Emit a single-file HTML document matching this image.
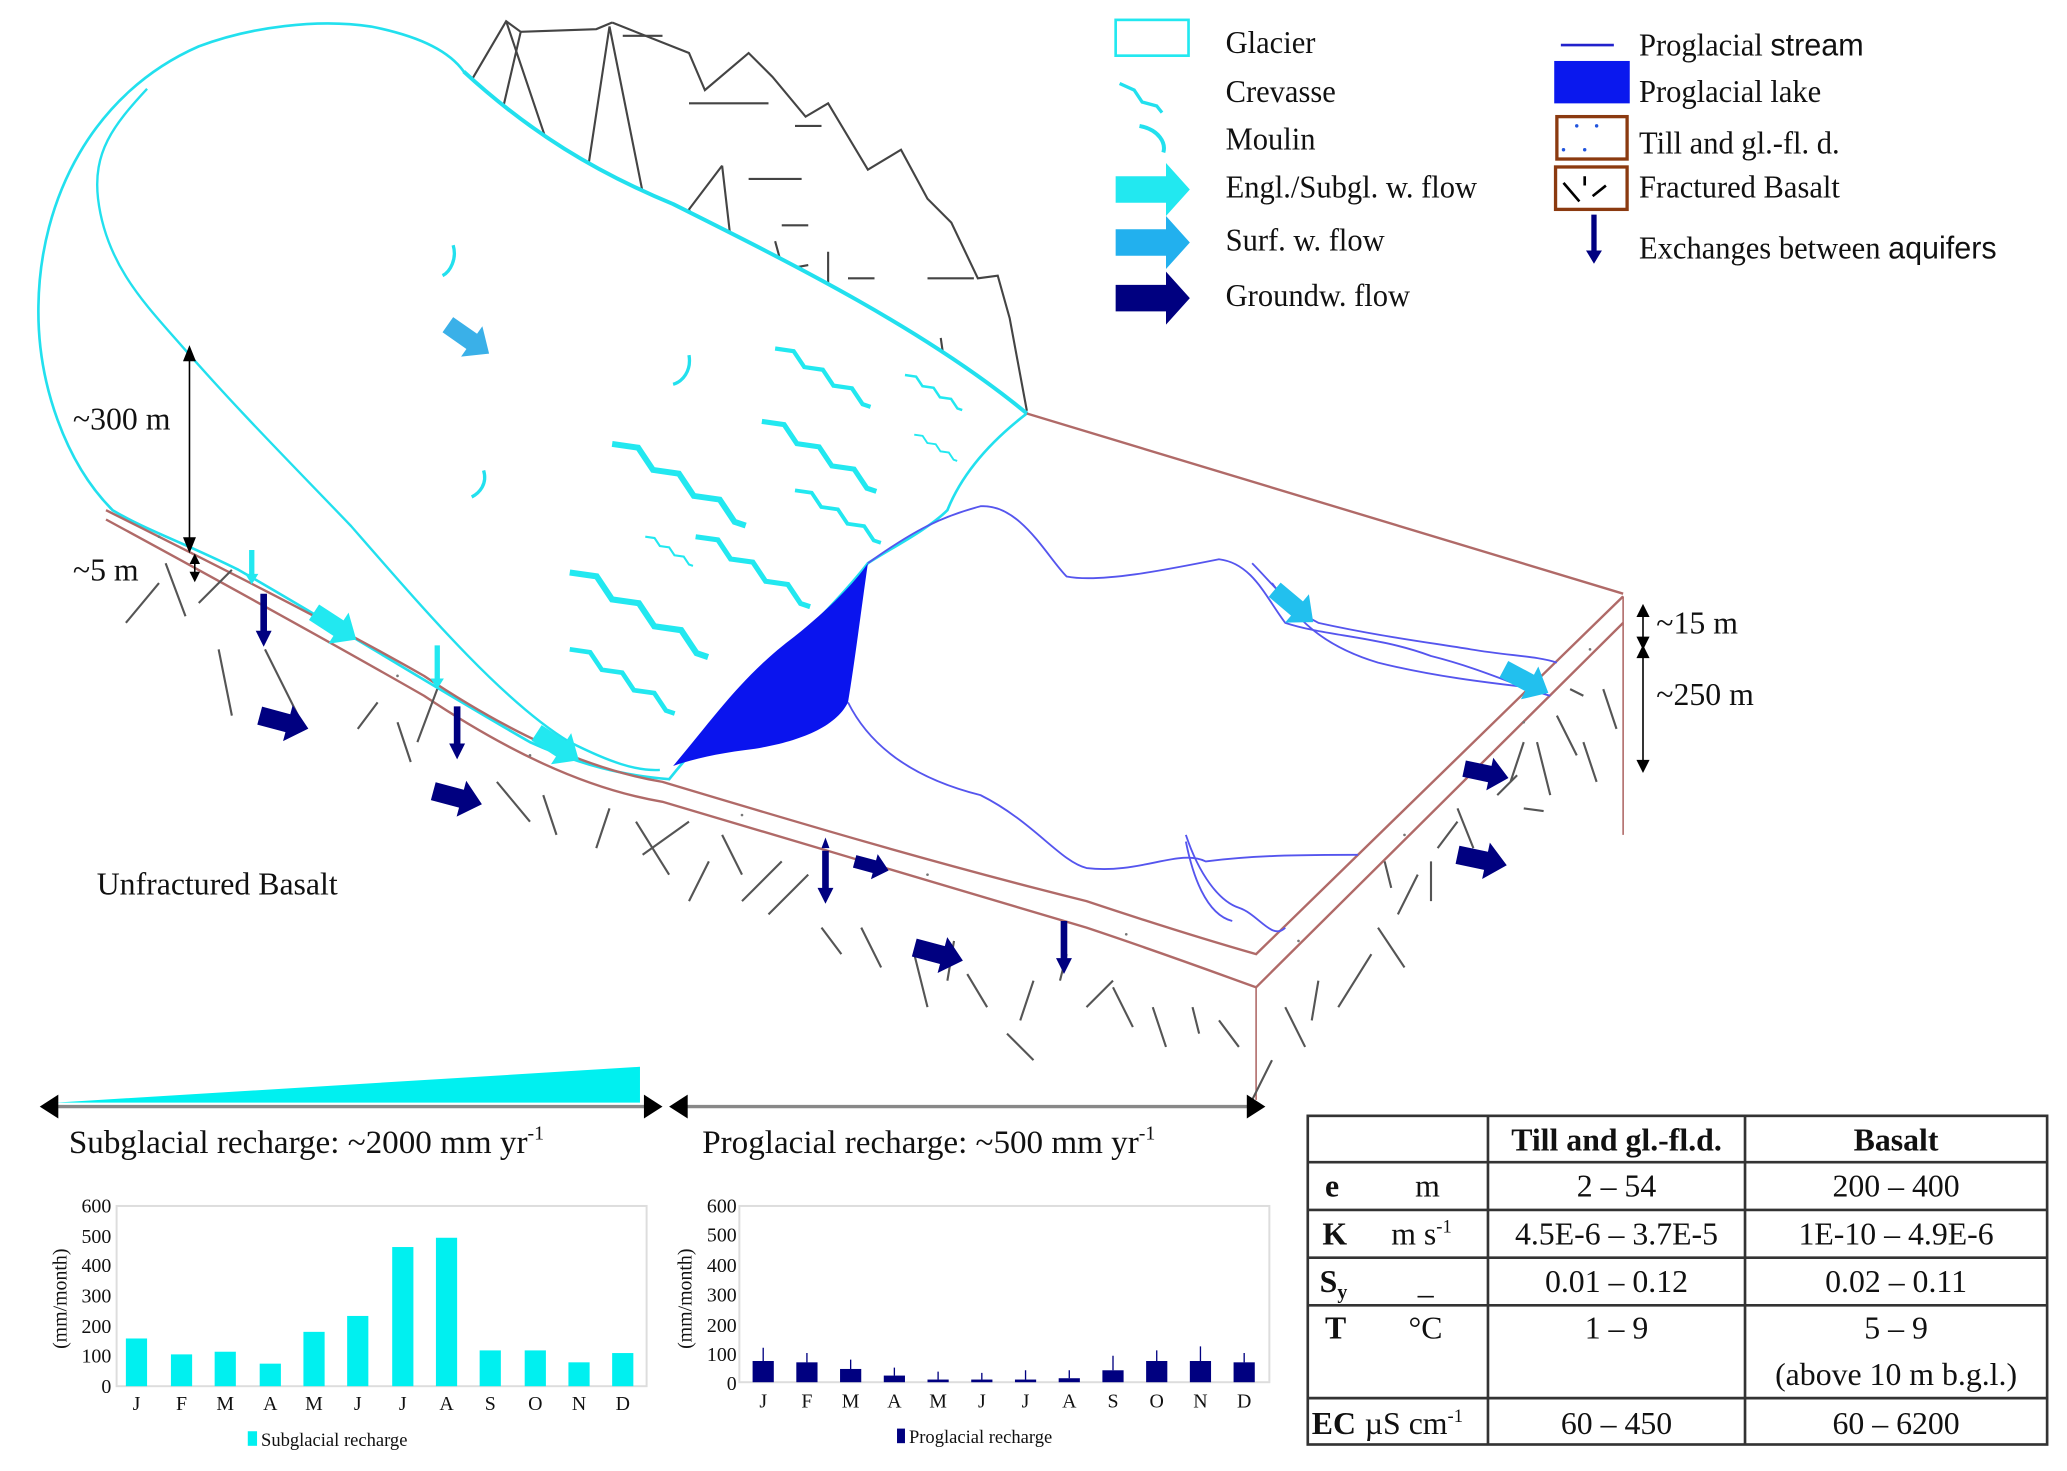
<!DOCTYPE html>
<html><head><meta charset="utf-8"><style>
html,body{margin:0;padding:0;background:#fff;}
svg{display:block;}
text{font-family:"Liberation Serif",serif;fill:#111;}
</style></head><body>
<svg width="2067" height="1471" viewBox="0 0 1560 1110" preserveAspectRatio="none" xmlns="http://www.w3.org/2000/svg">
<defs>
<path id="crev" d="M0,0 L14,2 L22,14 L36,16 L44,28 L58,30 L66,42 L72,44" fill="none" stroke="#22e8f0" stroke-width="3.2"/>
<path id="arr" d="M0,-7 L22,-7 L22,-14 L38,0 L22,14 L22,7 L0,7Z"/>
<path id="darr" d="M-2.5,0 L2.5,0 L2.5,28 L6,28 L0,40 L-6,28 L-2.5,28Z"/>
</defs>

<!-- mountain -->
<g fill="none" stroke="#444" stroke-width="1.6">
<path d="M355,62 L382,16 L393,24 L450,22 L462,17 M462,17 L520,40 L532,68 L565,40 L583,58 L608,88 L625,78 L655,128 L680,113 L700,150 L718,168 L738,210 L753,208 L762,240 L775,310"/>
<path d="M382,16 L412,105 L438,165 L460,20 L488,160 L485,170 L518,245"/>
<path d="M393,24 L380,80 M412,105 L410,140 M545,125 L520,158 L545,220 M545,125 L560,255 M585,182 L620,310 M583,205 L610,200 M590,170 L610,170 M580,78 L520,78 M605,135 L565,135 M640,210 L660,210 M630,245 L660,245 M650,268 L690,260 M700,295 L740,295 M715,320 L745,320 M725,338 L740,338 M470,27 L500,27 M620,95 L600,95 M625,190 L625,265 M710,255 L715,290 M700,302 L695,330 M730,305 L745,310 M700,210 L735,210"/>
</g>

<!-- glacier -->
<path d="M85,385 C50,350 28,290 29,231 C30,150 70,70 150,35 C190,20 240,14 280,20 C320,28 340,40 350,54 C400,100 450,130 508,154 C600,200 700,250 775,312 C745,335 725,360 715,385 C700,400 670,415 655,425 C620,470 560,520 505,588 C470,585 440,578 400,560 C330,520 250,470 180,430 C140,410 110,400 85,385Z" fill="#fff" stroke="#22e0ee" stroke-width="2"/>
<path d="M111,67 C85,95 70,115 74,150 C80,200 110,230 138,262 C180,310 220,350 265,397 C320,460 380,530 430,560 C460,575 480,582 498,581" fill="none" stroke="#22e0ee" stroke-width="1.8"/>
<path d="M350,54 C400,100 450,130 508,154 C600,200 700,250 775,312" fill="none" stroke="#22e0ee" stroke-width="3"/>
<g>
<use href="#crev" transform="translate(585,263)"/>
<use href="#crev" transform="translate(683,283) scale(0.6)"/>
<use href="#crev" transform="translate(575,318) scale(1.2)"/>
<use href="#crev" transform="translate(690,328) scale(0.45)"/>
<use href="#crev" transform="translate(462,335) scale(1.4)"/>
<use href="#crev" transform="translate(600,370) scale(0.9)"/>
<use href="#crev" transform="translate(525,405) scale(1.2)"/>
<use href="#crev" transform="translate(430,432) scale(1.45)"/>
<use href="#crev" transform="translate(487,405) scale(0.5)"/>
<use href="#crev" transform="translate(430,490) scale(1.1)"/>
</g>
<g fill="none" stroke="#22e0ee" stroke-width="2.5">
<path d="M342,185 C345,195 340,205 334,208"/><path d="M520,268 C522,280 515,288 508,290"/><path d="M365,355 C368,365 362,372 356,375"/>
</g>
<use href="#arr" fill="#3ab0e8" transform="translate(338,245) rotate(35)"/>

<!-- ground block -->
<g fill="none" stroke="#b06a68" stroke-width="1.8">
<path d="M775,312 L1225,448"/>
<path d="M80,385 C150,420 250,470 320,510 C380,550 440,580 500,590 C600,620 700,650 820,680 C880,700 920,712 948,720 L1225,450"/>
<path d="M80,392 C150,430 250,485 320,525 C380,565 440,595 500,605 C600,635 700,665 820,700 C880,720 920,735 948,745 L1225,470"/>
<path d="M948,745 L948,830 M1225,450 L1225,630" stroke-width="1.2"/>
</g>
<!-- fractures -->
<g stroke="#555" stroke-width="1.6">
<path d="M95,470 L120,440 M125,425 L140,465 M150,455 L175,430 M165,490 L175,540 M200,490 L225,540 M270,550 L285,530 M300,545 L310,575 M315,560 L330,520 M375,590 L400,620 M410,600 L420,630 M460,610 L450,640 M485,645 L520,620 M480,620 L505,660 M535,650 L520,680 M545,630 L560,660 M560,680 L590,650 M580,690 L610,660 M620,700 L635,720 M650,700 L665,730 M690,720 L700,760 M720,710 L715,740 M780,740 L770,770 M805,720 L800,740 M820,760 L840,740 M840,745 L855,775 M870,760 L880,790 M900,760 L905,780 M920,770 L935,790 M960,800 L945,830 M970,760 L985,790 M995,740 L990,770 M1010,760 L1035,720 M1040,700 L1060,730 M1055,690 L1070,660 M1080,680 L1080,650 M1100,610 L1112,640 M1150,610 L1165,612 M1160,560 L1170,600 M1175,540 L1190,570 M1195,560 L1205,590 M1210,520 L1220,550 M1185,520 L1195,525 M1140,590 L1150,560 M1085,640 L1100,620 M730,735 L745,760 M760,780 L780,800 M1130,600 L1145,585 M1045,650 L1050,670"/>
</g>
<g fill="#777"><circle cx="120" cy="405" r="1"/><circle cx="200" cy="450" r="1"/><circle cx="300" cy="510" r="1"/><circle cx="400" cy="570" r="1"/><circle cx="560" cy="615" r="1"/><circle cx="700" cy="660" r="1"/><circle cx="850" cy="705" r="1"/><circle cx="980" cy="710" r="1"/><circle cx="1060" cy="630" r="1"/><circle cx="1150" cy="545" r="1"/><circle cx="1200" cy="490" r="1"/></g>

<!-- lake & streams -->
<path d="M508,578 C540,540 560,510 600,480 C625,460 645,440 655,425 C650,460 645,500 640,530 C630,550 600,560 570,565 C545,568 525,572 508,578Z" fill="#0a14ee"/>
<g fill="none" stroke="#5555ee" stroke-width="1.4">
<path d="M655,425 C690,400 710,390 740,382 C770,380 790,420 805,435 C830,440 880,430 920,422 C945,425 955,450 970,470 C1000,480 1040,480 1080,495 C1120,505 1150,520 1170,525"/>
<path d="M945,425 C960,440 975,460 995,470 C1040,480 1080,485 1110,490 C1140,495 1160,495 1175,500"/>
<path d="M960,440 C975,460 990,485 1040,500 C1080,510 1120,515 1165,520"/>
<path d="M640,530 C660,570 700,590 740,600 C780,620 800,650 820,655 C860,660 890,640 910,650 C950,645 990,645 1025,645"/>
<path d="M895,630 C905,660 920,680 935,685 C950,690 960,710 970,700"/>
<path d="M895,635 C900,660 910,690 930,695"/>
</g>

<!-- flow arrows -->
<g fill="#22e8f0"><use href="#arr" transform="translate(237,462) rotate(33)"/><use href="#arr" transform="translate(405,553) rotate(33)"/></g>
<g fill="#22c0ee"><use href="#arr" transform="translate(962,445) rotate(40)"/><use href="#arr" transform="translate(1135,505) rotate(28)"/></g>
<g fill="#000080"><use href="#arr" transform="translate(196,540) rotate(15)"/><use href="#arr" transform="translate(327,597) rotate(15)"/><use href="#arr" transform="translate(690,715) rotate(15)"/><use href="#arr" transform="translate(1105,580) rotate(12) scale(0.9)"/><use href="#arr" transform="translate(1100,645) rotate(12)"/><use href="#arr" transform="translate(645,650) rotate(15) scale(0.7)"/>
<use href="#darr" transform="translate(199,448)"/><use href="#darr" transform="translate(345,533)"/><use href="#darr" transform="translate(803,695)"/><use href="#darr" transform="translate(623,642)"/><path d="M620,640 L623,632 L626,640Z"/></g>
<g fill="#22e8f0"><path d="M188,415 L192,415 L192,433 L195,433 L190,441 L185,433 L188,433Z"/><path d="M328,487 L332,487 L332,512 L335,512 L330,520 L325,512 L328,512Z"/></g>

<!-- dimension arrows -->
<g stroke="#000" stroke-width="1.2" fill="#000">
<path d="M143,270 L143,408"/><path d="M139,272 L143,262 L147,272Z"/><path d="M139,406 L143,416 L147,406Z"/>
<path d="M147,422 L147,435"/><path d="M144,425 L147,419 L150,425Z M144,432 L147,438 L150,432Z"/>
<path d="M1240,460 L1240,485"/><path d="M1236,465 L1240,457 L1244,465Z M1236,481 L1240,489 L1244,481Z"/>
<path d="M1240,490 L1240,580"/><path d="M1236,496 L1240,488 L1244,496Z M1236,574 L1240,582 L1244,574Z"/>
</g>
<text x="55" y="324" font-size="24">~300 m</text>
<text x="55" y="438" font-size="24">~5 m</text>
<text x="1250" y="478" font-size="24">~15 m</text>
<text x="1250" y="532" font-size="24">~250 m</text>
<text x="73" y="675" font-size="24">Unfractured Basalt</text>

<!-- legend -->
<rect x="842" y="15" width="55" height="27" fill="none" stroke="#22e8f0" stroke-width="2"/>
<path d="M845,63 L856,68 L862,77 L873,80 L877,85" fill="none" stroke="#22e0ee" stroke-width="2.5"/>
<path d="M860,95 C875,98 880,108 878,115" fill="none" stroke="#22e0ee" stroke-width="3"/>
<path d="M842,133 L880,133 L880,123 L898,143 L880,163 L880,153 L842,153Z" fill="#22e8f0"/>
<path d="M842,173 L880,173 L880,163 L898,183 L880,203 L880,193 L842,193Z" fill="#22b0ee"/>
<path d="M842,215 L880,215 L880,205 L898,225 L880,245 L880,235 L842,235Z" fill="#000080"/>
<g font-size="24" transform="translate(925,0) scale(0.96,1)">
<text x="0" y="40">Glacier</text>
<text x="0" y="77">Crevasse</text>
<text x="0" y="113">Moulin</text>
<text x="0" y="149">Engl./Subgl. w. flow</text>
<text x="0" y="189">Surf. w. flow</text>
<text x="0" y="231">Groundw. flow</text>
</g>
<path d="M1178,34 L1218,34" stroke="#2222cc" stroke-width="2"/>
<rect x="1173" y="46" width="57" height="32" fill="#0a18ee"/>
<rect x="1175" y="88" width="53" height="32" fill="none" stroke="#8b3a10" stroke-width="2.5"/>
<g fill="#2255dd"><circle cx="1190" cy="95" r="1.3"/><circle cx="1205" cy="95" r="1.3"/><circle cx="1180" cy="113" r="1.3"/><circle cx="1196" cy="113" r="1.3"/></g>
<rect x="1174" y="126" width="54" height="32" fill="none" stroke="#8b3a10" stroke-width="2.5"/>
<path d="M1180,138 L1192,152 M1196,133 L1196,140 M1212,140 L1202,148" stroke="#000" stroke-width="2"/>
<path d="M1201,162 L1205,162 L1205,189 L1209,189 L1203,199 L1197,189 L1201,189Z" fill="#000080"/>
<g font-size="24" transform="translate(1237,0) scale(0.96,1)">
<text x="0" y="42">Proglacial <tspan font-family="Liberation Sans Narrow, Liberation Sans, sans-serif">stream</tspan></text>
<text x="0" y="77">Proglacial lake</text>
<text x="0" y="116">Till and gl.-fl. d.</text>
<text x="0" y="149">Fractured Basalt</text>
<text x="0" y="195">Exchanges between <tspan font-family="Liberation Sans Narrow, Liberation Sans, sans-serif">aquifers</tspan></text>
</g>

<!-- recharge arrows -->
<path d="M42,832 L483,805 L483,832Z" fill="#00f0f0"/>
<g stroke="#888" stroke-width="2.5"><path d="M40,835 L490,835"/><path d="M515,835 L945,835"/></g>
<g fill="#000"><path d="M30,835 L44,826 L44,844Z"/><path d="M500,835 L486,826 L486,844Z"/><path d="M505,835 L519,826 L519,844Z"/><path d="M955,835 L941,826 L941,844Z"/></g>
<text x="52" y="870" font-size="25">Subglacial recharge: ~2000 mm yr<tspan font-size="15" dy="-10">-1</tspan></text>
<text x="530" y="870" font-size="25">Proglacial recharge: ~500 mm yr<tspan font-size="15" dy="-10">-1</tspan></text>

<!-- left bar chart -->
<g font-size="15">
<rect x="88" y="910" width="400" height="136" fill="none" stroke="#ddd" stroke-width="1.5"/>
<g text-anchor="end"><text x="84" y="915">600</text><text x="84" y="938">500</text><text x="84" y="960">400</text><text x="84" y="983">300</text><text x="84" y="1006">200</text><text x="84" y="1028">100</text><text x="84" y="1051">0</text></g>
<text transform="translate(50,980) rotate(-90)" text-anchor="middle" font-size="15">(mm/month)</text>
<g fill="#00f0f0">
<rect x="95" y="1010" width="16" height="36"/><rect x="129" y="1022" width="16" height="24"/><rect x="162" y="1020" width="16" height="26"/><rect x="196" y="1029" width="16" height="17"/><rect x="229" y="1005" width="16" height="41"/><rect x="262" y="993" width="16" height="53"/><rect x="296" y="941" width="16" height="105"/><rect x="329" y="934" width="16" height="112"/><rect x="362" y="1019" width="16" height="27"/><rect x="396" y="1019" width="16" height="27"/><rect x="429" y="1028" width="16" height="18"/><rect x="462" y="1021" width="16" height="25"/>
</g>
<g text-anchor="middle"><text x="103" y="1064">J</text><text x="137" y="1064">F</text><text x="170" y="1064">M</text><text x="204" y="1064">A</text><text x="237" y="1064">M</text><text x="270" y="1064">J</text><text x="304" y="1064">J</text><text x="337" y="1064">A</text><text x="370" y="1064">S</text><text x="404" y="1064">O</text><text x="437" y="1064">N</text><text x="470" y="1064">D</text></g>
<rect x="187" y="1080" width="7" height="11" fill="#00f0f0"/><text x="197" y="1091" font-size="14">Subglacial recharge</text>
</g>

<!-- right bar chart -->
<g font-size="15">
<rect x="558" y="910" width="400" height="133" fill="none" stroke="#ddd" stroke-width="1.5"/>
<g text-anchor="end"><text x="556" y="915">600</text><text x="556" y="937">500</text><text x="556" y="960">400</text><text x="556" y="982">300</text><text x="556" y="1005">200</text><text x="556" y="1027">100</text><text x="556" y="1049">0</text></g>
<text transform="translate(522,980) rotate(-90)" text-anchor="middle" font-size="15">(mm/month)</text>
<g fill="#000080">
<rect x="568" y="1027" width="16" height="16"/><rect x="601" y="1028" width="16" height="15"/><rect x="634" y="1033" width="16" height="10"/><rect x="667" y="1038" width="16" height="5"/><rect x="700" y="1041" width="16" height="2"/><rect x="733" y="1041" width="16" height="2"/><rect x="766" y="1041" width="16" height="2"/><rect x="799" y="1040" width="16" height="3"/><rect x="832" y="1034" width="16" height="9"/><rect x="865" y="1027" width="16" height="16"/><rect x="898" y="1027" width="16" height="16"/><rect x="931" y="1028" width="16" height="15"/>
</g>
<g stroke="#000080" stroke-width="1"><path d="M576,1027 V1017 M609,1028 V1021 M642,1033 V1026 M675,1038 V1032 M708,1041 V1035 M741,1041 V1036 M774,1041 V1034 M807,1040 V1034 M840,1034 V1023 M873,1027 V1019 M906,1027 V1016 M939,1028 V1021"/></g>
<g text-anchor="middle"><text x="576" y="1062">J</text><text x="609" y="1062">F</text><text x="642" y="1062">M</text><text x="675" y="1062">A</text><text x="708" y="1062">M</text><text x="741" y="1062">J</text><text x="774" y="1062">J</text><text x="807" y="1062">A</text><text x="840" y="1062">S</text><text x="873" y="1062">O</text><text x="906" y="1062">N</text><text x="939" y="1062">D</text></g>
<rect x="677" y="1078" width="6" height="11" fill="#000080"/><text x="686" y="1089" font-size="14">Proglacial recharge</text>
</g>

<!-- table -->
<g stroke="#333" stroke-width="2" fill="none">
<rect x="987" y="842" width="558" height="248"/>
<path d="M1123,842 V1090 M1317,842 V1090 M987,877 H1545 M987,913 H1545 M987,949 H1545 M987,985 H1545 M987,1055 H1545"/>
</g>
<g font-size="24">
<text x="1220" y="868" text-anchor="middle" font-weight="bold">Till and gl.-fl.d.</text>
<text x="1431" y="868" text-anchor="middle" font-weight="bold">Basalt</text>
<text x="1000" y="903" font-weight="bold">e</text><text x="1068" y="903">m</text>
<text x="1220" y="903" text-anchor="middle">2 – 54</text><text x="1431" y="903" text-anchor="middle">200 – 400</text>
<text x="998" y="939" font-weight="bold">K</text><text x="1050" y="939">m s<tspan font-size="14" dy="-9">-1</tspan></text>
<text x="1220" y="939" text-anchor="middle">4.5E-6 – 3.7E-5</text><text x="1431" y="939" text-anchor="middle">1E-10 – 4.9E-6</text>
<text x="996" y="975" font-weight="bold">S<tspan font-size="15" dy="5">y</tspan></text><text x="1070" y="976">_</text>
<text x="1220" y="975" text-anchor="middle">0.01 – 0.12</text><text x="1431" y="975" text-anchor="middle">0.02 – 0.11</text>
<text x="1000" y="1010" font-weight="bold">T</text><text x="1063" y="1010">°C</text>
<text x="1220" y="1010" text-anchor="middle">1 – 9</text><text x="1431" y="1010" text-anchor="middle">5 – 9</text>
<text x="1431" y="1045" text-anchor="middle">(above 10 m b.g.l.)</text>
<text x="990" y="1082" font-weight="bold">EC</text><text x="1030" y="1082">µS cm<tspan font-size="14" dy="-9">-1</tspan></text>
<text x="1220" y="1082" text-anchor="middle">60 – 450</text><text x="1431" y="1082" text-anchor="middle">60 – 6200</text>
</g>
</svg>
</body></html>
